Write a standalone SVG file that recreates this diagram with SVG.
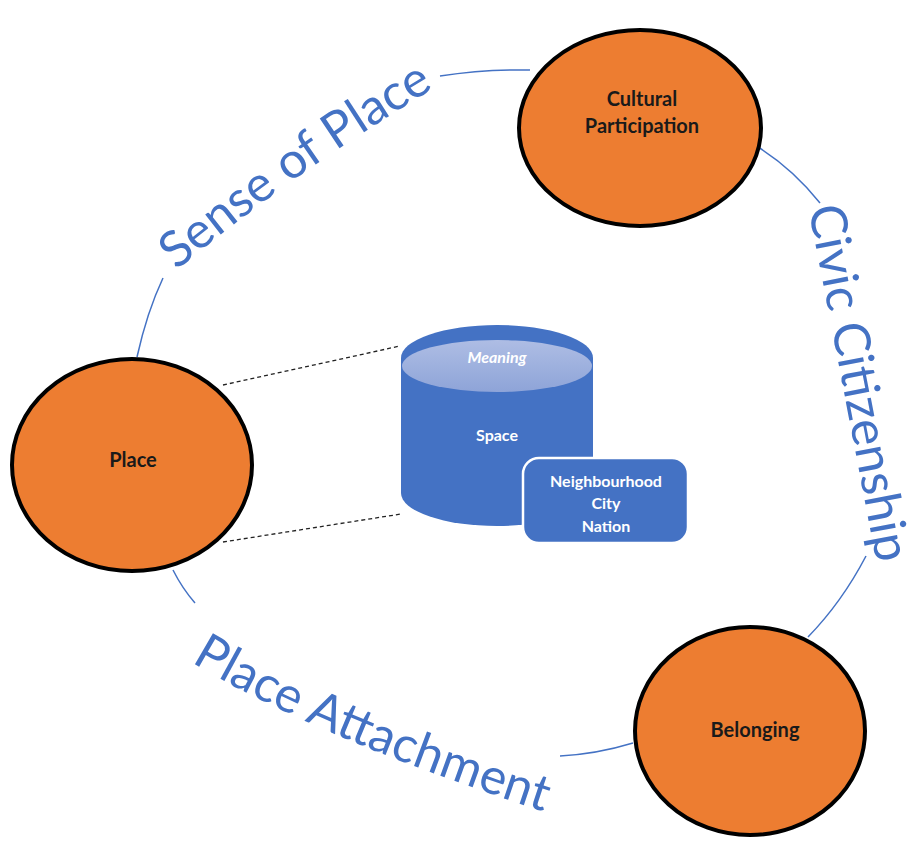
<svg xmlns="http://www.w3.org/2000/svg" width="917" height="844" viewBox="0 0 917 844">
<style>
.ring{fill:none;stroke:#4472C4;stroke-width:1.5}
.dash{fill:none;stroke:#222;stroke-width:1.3;stroke-dasharray:4 3}
.node{fill:#ED7D31;stroke:#000;stroke-width:4}
.nt{font-family:Lato,"Liberation Sans",sans-serif;font-weight:bold;font-size:20px;fill:#1a1a1a;text-anchor:middle}
.wt{font-family:Lato,"Liberation Sans",sans-serif;font-weight:bold;font-size:16px;fill:#fff;text-anchor:middle}
.big{font-family:Lato,"Liberation Sans",sans-serif;font-size:50px;fill:#4472C4}
</style>
<defs>
<linearGradient id="topg" x1="0" y1="0" x2="0" y2="1">
<stop offset="0" stop-color="#AEBDE4"/>
<stop offset="1" stop-color="#8EA4D8"/>
</linearGradient>
<path id="p-sense" d="M176,271 Q294,172 435,88"/>
<path id="p-civic" d="M809,212 Q843,385 876,560"/>
<path id="p-attach" d="M188,660 Q312,736 548,813"/>
</defs>
<g id="connectors">
<path class="ring" d="M137,357 Q147,312 163,278"/>
<path class="ring" d="M440,76 Q485,69 530,70"/>
<path class="ring" d="M758,147 Q793,169 820,203"/>
<path class="ring" d="M866,556 Q842,602 808,637"/>
<path class="ring" d="M633,743 Q597,754 560,756"/>
<path class="ring" d="M173,570 Q182,588 195,603"/>
<line class="dash" x1="223" y1="385" x2="400" y2="346"/>
<line class="dash" x1="223" y1="542" x2="401" y2="514"/>
</g>
<g id="label-sense">
<text class="big"><textPath href="#p-sense" startOffset="50%" text-anchor="middle">Sense of Place</textPath></text>
</g>
<g id="label-civic">
<text class="big" font-size="49"><textPath href="#p-civic" startOffset="50%" text-anchor="middle">Civic Citizenship</textPath></text>
</g>
<g id="label-attach">
<text class="big"><textPath href="#p-attach" startOffset="50%" text-anchor="middle">Place Attachment</textPath></text>
</g>
<g id="space">
<path d="M401,358 L401,493 A96,33 0 0 0 593,493 L593,358 Z" fill="#4472C4"/>
<ellipse cx="497" cy="358" rx="96" ry="33" fill="#4472C4"/>
<ellipse cx="497" cy="366" rx="95" ry="26" fill="url(#topg)"/>
<text class="wt" x="497" y="363" font-style="italic">Meaning</text>
<text class="wt" x="497" y="441">Space</text>
</g>
<g id="scale">
<rect x="523" y="458" width="165" height="85" rx="16" fill="#4472C4" stroke="#fff" stroke-width="2.5"/>
<text class="wt" x="606" y="487">Neighbourhood</text>
<text class="wt" x="606" y="509">City</text>
<text class="wt" x="606" y="532">Nation</text>
</g>
<g id="place">
<ellipse class="node" cx="132" cy="465" rx="120" ry="106"/>
<text class="nt" x="133" y="467">Place</text>
</g>
<g id="cultural">
<ellipse class="node" cx="640" cy="128" rx="121" ry="98"/>
<text class="nt" x="642" y="106">Cultural</text>
<text class="nt" x="642" y="133">Participation</text>
</g>
<g id="belonging">
<ellipse class="node" cx="750" cy="731" rx="115" ry="104"/>
<text class="nt" x="755" y="737">Belonging</text>
</g>
</svg>
